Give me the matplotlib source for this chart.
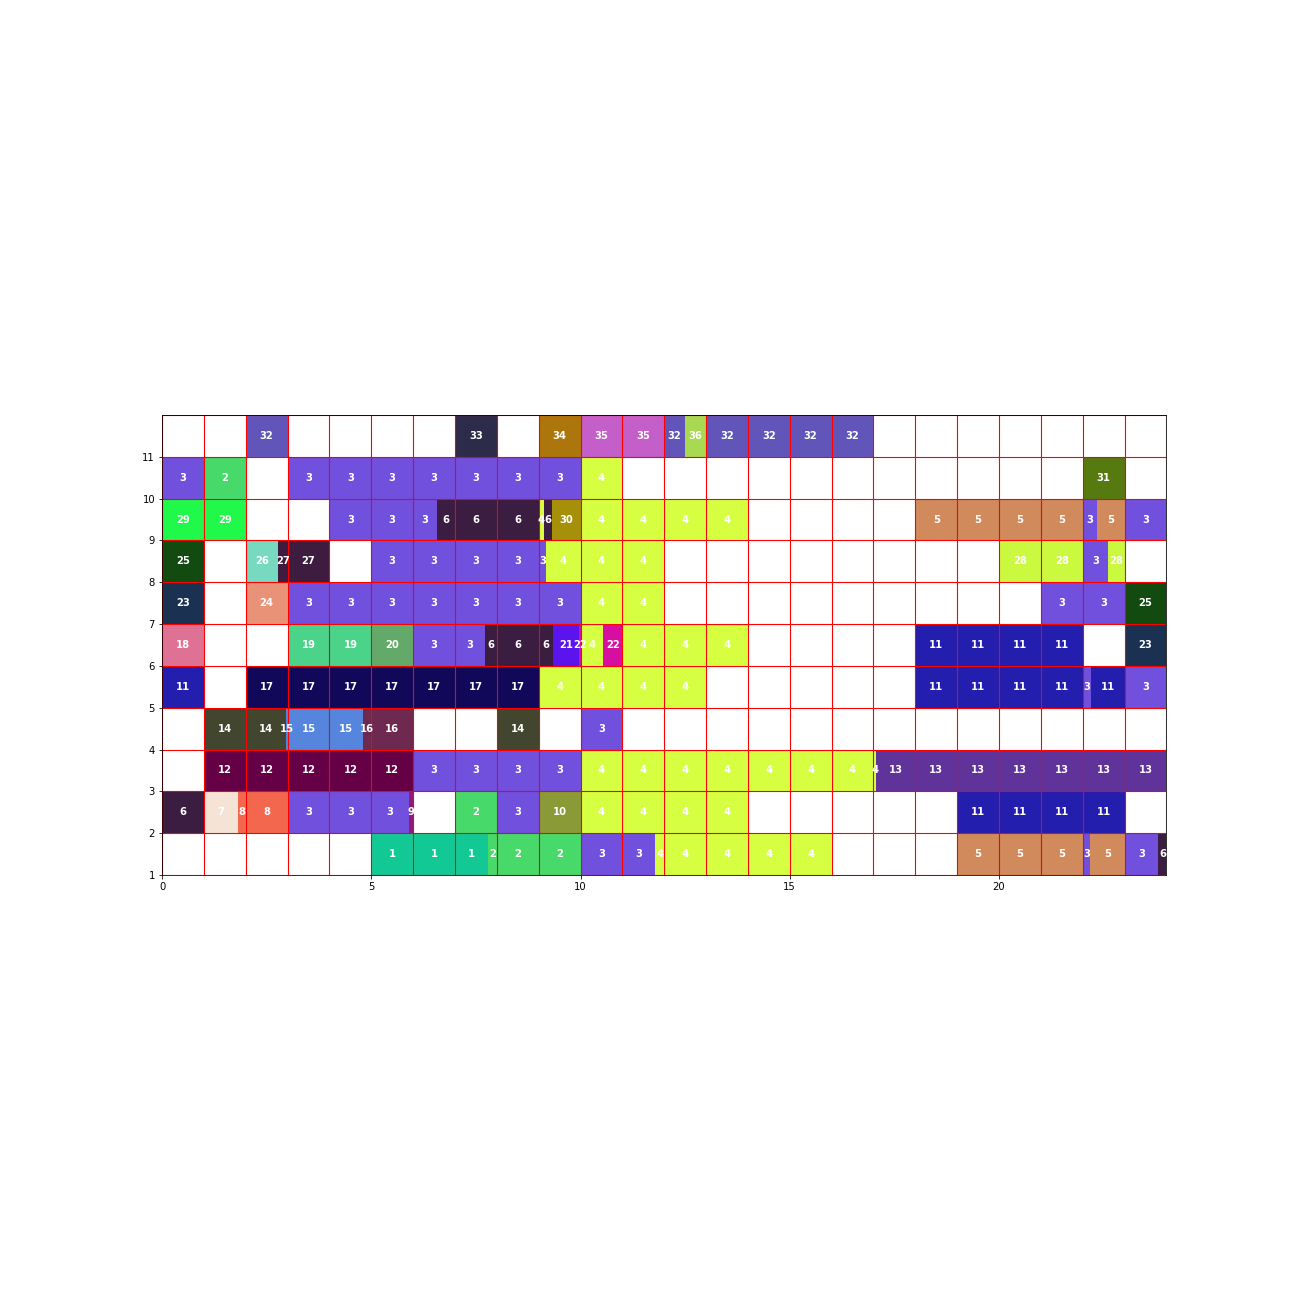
import matplotlib
matplotlib.use("Agg")
import matplotlib.pyplot as plt
import numpy as np

# schedule per machine row: (start, end, job)
m1 = [(5, 7.79, 1), (7.79, 10, 2), (10, 11.79, 3), (11.79, 16, 4), (19, 22, 5),
      (22, 22.18, 3), (22.18, 23, 5), (23, 23.81, 3), (23.81, 24, 6)]
m2 = [(0, 1, 6), (1, 1.82, 7), (1.82, 3, 8), (3, 5.9, 3), (5.9, 6, 9), (7, 8, 2),
      (8, 9, 3), (9, 10, 10), (10, 14, 4), (19, 23, 11)]
m3 = [(1, 6, 12), (6, 10, 3), (10, 17.07, 4), (17.07, 24, 13)]
m4 = [(1, 2.96, 14), (2.96, 4.81, 15), (4.81, 6, 16), (8, 9, 14), (10, 11, 3)]
m5 = [(0, 1, 11), (2, 9, 17), (9, 13, 4), (18, 22, 11), (22, 22.2, 3),
      (22.2, 23, 11), (23, 24, 3)]
m6 = [(0, 1, 18), (3, 5, 19), (5, 6, 20), (6, 7.72, 3), (7.72, 9.34, 6),
      (9.34, 9.97, 21), (9.97, 10, 22), (10, 10.54, 4), (10.54, 11, 22),
      (11, 14, 4), (18, 22, 11), (23, 24, 23)]
m7 = [(0, 1, 23), (2, 3, 24), (3, 10, 3), (10, 12, 4), (21, 23, 3), (23, 24, 25)]
m8 = [(0, 1, 25), (2, 2.77, 26), (2.77, 4, 27), (5, 9.18, 3), (9.18, 12, 4),
      (20, 22, 28), (22, 22.6, 3), (22.6, 23, 28)]
m9 = [(0, 2, 29), (4, 6.57, 3), (6.57, 9.0, 6), (9.0, 9.13, 4), (9.13, 9.32, 6),
      (9.32, 10, 30), (10, 14, 4), (18, 22, 5), (22, 22.35, 3), (22.35, 23, 5),
      (23, 24, 3)]
m10 = [(0, 1, 3), (1, 2, 2), (3, 10, 3), (10, 11, 4), (22, 23, 31)]
m11 = [(2, 3, 32), (7, 8, 33), (9, 10, 34), (10, 12, 35), (12, 12.5, 32),
       (12.5, 13, 36), (13, 17, 32)]

filas = [m1, m2, m3, m4, m5, m6, m7, m8, m9, m10, m11]

colores = {
    1: "#12c995", 2: "#48d96b", 3: "#7050dd", 4: "#d6ff42", 5: "#d08a5c",
    6: "#3b1d42", 7: "#f5e3d6", 8: "#f2674e", 9: "#8e1a7a", 10: "#8a9a37",
    11: "#241eae", 12: "#660046", 13: "#5f3399", 14: "#43462f", 15: "#5585dc",
    16: "#6e2950", 17: "#12085a", 18: "#df7194", 19: "#4bd38a", 20: "#63aa6a",
    21: "#5b14ee", 22: "#d60fa0", 23: "#1b3151", 24: "#ea9278", 25: "#134a10",
    26: "#77d9bf", 27: "#3d1c40", 28: "#cbf940", 29: "#20f84a", 30: "#a6900a",
    31: "#567a10", 32: "#6255b9", 33: "#2d2b4a", 34: "#ad760c", 35: "#c45ec8",
    36: "#a8d951",
}

fig = plt.figure(figsize=(18, 18), dpi=72, facecolor="white")
ax = fig.add_axes([0.125, 1 - 875 / 1296, 0.775, 460 / 1296])

for k, fila in enumerate(filas):
    y = k + 1
    for ini, fin, job in fila:
        ax.barh(y + 0.5, fin - ini, left=ini, height=1.0, color=colores[job],
                edgecolor="none", zorder=1)
        # una etiqueta por cada hora que toca el trabajo
        for h in range(int(np.floor(ini)), int(np.ceil(fin))):
            lo, hi = max(ini, h), min(fin, h + 1)
            if hi - lo > 1e-9:
                ax.text((lo + hi) / 2, y + 0.5, str(job), color="white",
                        fontsize=10, fontweight="bold", ha="center",
                        va="center", zorder=3)

ax.vlines(np.arange(0, 25), 1, 12, colors="red", linewidth=1.1, zorder=2)
ax.hlines(np.arange(1, 13), 0, 24, colors="red", linewidth=1.1, zorder=2)

ax.set_xlim(0, 24)
ax.set_ylim(1, 12)
ax.set_xticks([0, 5, 10, 15, 20])
ax.set_yticks(range(1, 12))
for s in ax.spines.values():
    s.set_zorder(2.5)

fig.savefig("out.png", dpi=72, facecolor="white")
